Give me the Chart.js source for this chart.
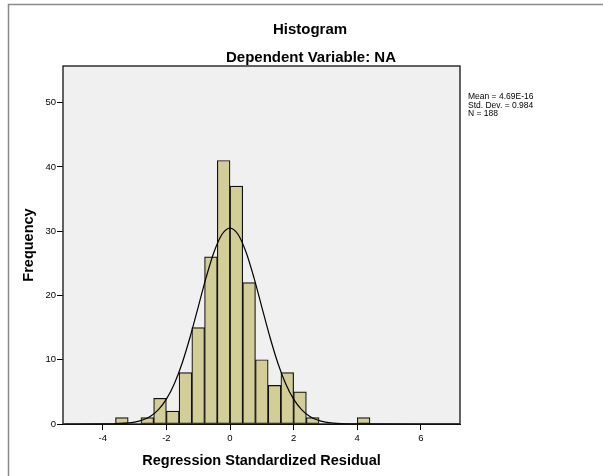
<!DOCTYPE html>
<html>
<head>
<meta charset="utf-8">
<script src="https://cdn.jsdelivr.net/npm/chart.js@4.4.1/dist/chart.umd.min.js"></script>
<style>
  html, body { margin: 0; padding: 0; background: #fff; overflow: hidden; }
  #wrap { width: 603px; height: 476px; position: relative; }
</style>
</head>
<body>
<div id="wrap"><canvas id="histChart"></canvas></div>
<script>
// histogram bins (left edge) and their counts
const binLeft = [-3.6, -2.8, -2.4, -2.0, -1.6, -1.2, -0.8, -0.4, 0.0, 0.4, 0.8, 1.2, 1.6, 2.0, 2.4, 4.0];
const binCount = [1, 1, 4, 2, 8, 15, 26, 41, 37, 22, 10, 6, 8, 5, 1, 1];
const binWidth = 0.4;

// normal curve
const curveX = [-5.2, -4, -3.75, -3.5, -3.25, -3, -2.75, -2.5, -2.25, -2, -1.75, -1.5, -1.25, -1, -0.75, -0.5, -0.25,
                0, 0.25, 0.5, 0.75, 1, 1.25, 1.5, 1.75, 2, 2.25, 2.5, 2.75, 3, 3.25, 3.5, 3.75, 4, 7.2];
const curveY = [0, 0.01, 0.02, 0.05, 0.13, 0.29, 0.62, 1.21, 2.24, 3.87, 6.27, 9.54, 13.61, 18.19, 22.81, 26.8, 29.52,
                30.49, 29.52, 26.8, 22.81, 18.19, 13.61, 9.54, 6.27, 3.87, 2.24, 1.21, 0.62, 0.29, 0.13, 0.05, 0.02, 0.01, 0];

const xTicks = [-4, -2, 0, 2, 4, 6];
const yTicks = [0, 10, 20, 30, 40, 50];
const statLines = ["Mean = 4.69E-16", "Std. Dev. = 0.984", "N = 188"];

const FONT = "'Liberation Sans', Arial, sans-serif";

// frame, plot background, titles and stats box
const spssDeco = {
    id: 'spssDeco',
    beforeDatasetsDraw(chart) {
        const { ctx, chartArea: a } = chart;
        ctx.save();
        ctx.fillStyle = '#f0f0f0';
        ctx.fillRect(a.left, a.top, a.right - a.left, a.bottom - a.top);
        ctx.restore();
    },
    afterDatasetsDraw(chart) {
        const { ctx, chartArea: a } = chart;
        ctx.save();
        ctx.strokeStyle = '#111';
        ctx.lineWidth = 1.3;
        ctx.strokeRect(a.left, a.top, a.right - a.left, a.bottom - a.top);
        ctx.restore();
    },
    afterDraw(chart) {
        const { ctx } = chart;
        ctx.save();
        // outer frame
        ctx.strokeStyle = '#8a8a8a';
        ctx.lineWidth = 1.5;
        ctx.strokeRect(8.5, 4.5, 700, 600);

        ctx.fillStyle = '#000';
        ctx.textAlign = 'center';
        ctx.textBaseline = 'alphabetic';
        ctx.font = "bold 15px " + FONT;
        ctx.fillText("Histogram", 310, 33.5);
        ctx.fillText("Dependent Variable: NA", 311, 62);

        ctx.textAlign = 'left';
        ctx.font = "8.5px " + FONT;
        statLines.forEach((s, i) => ctx.fillText(s, 468, 99 + i * 8.5));
        ctx.restore();
    }
};

const ctx = document.getElementById('histChart').getContext('2d');
new Chart(ctx, {
    data: {
        datasets: [
            {
                type: 'bar',
                data: binLeft.map((l, i) => ({ x: l + binWidth / 2, y: binCount[i] })),
                backgroundColor: '#d3ce97',
                borderColor: '#111',
                borderWidth: 1.2,
                borderSkipped: false,
                barPercentage: 1,
                categoryPercentage: 1,
                order: 2
            },
            {
                type: 'line',
                data: curveX.map((x, i) => ({ x, y: curveY[i] })),
                borderColor: '#000',
                borderWidth: 1.2,
                pointRadius: 0,
                cubicInterpolationMode: 'monotone',
                fill: false,
                order: 1
            }
        ]
    },
    options: {
        responsive: true,
        maintainAspectRatio: false,
        animation: false,
        layout: { padding: { top: 66, right: 143, left: 0, bottom: 0 } },
        plugins: { legend: { display: false }, tooltip: { enabled: false } },
        scales: {
            x: {
                type: 'linear',
                min: -5.25,
                max: 7.23,
                offset: false,
                afterFit: s => { s.height = 52; },
                afterBuildTicks: s => { s.ticks = xTicks.map(v => ({ value: v })); },
                grid: { offset: false, drawOnChartArea: false, drawTicks: true, tickLength: 6, color: '#000' },
                border: { display: true, color: '#111', width: 1 },
                ticks: { color: '#000', font: { family: FONT, size: 9.5 }, padding: 3, maxRotation: 0, autoSkip: false },
                title: {
                    display: true,
                    text: 'Regression Standardized Residual',
                    color: '#000',
                    font: { family: FONT, size: 14.5, weight: 'bold' },
                    padding: { top: 0, bottom: 6 }
                }
            },
            y: {
                type: 'linear',
                min: 0,
                max: 55.7,
                afterFit: s => { s.width = 63; },
                afterBuildTicks: s => { s.ticks = yTicks.map(v => ({ value: v })); },
                grid: { drawOnChartArea: false, drawTicks: true, tickLength: 6, color: '#000' },
                border: { display: true, color: '#111', width: 1 },
                ticks: { color: '#000', font: { family: FONT, size: 9.5 }, padding: 1 },
                title: {
                    display: true,
                    text: 'Frequency',
                    color: '#000',
                    font: { family: FONT, size: 14.5, weight: 'bold' },
                    padding: { top: 20, bottom: 0 }
                }
            }
        }
    },
    plugins: [spssDeco]
});
</script>
</body>
</html>
